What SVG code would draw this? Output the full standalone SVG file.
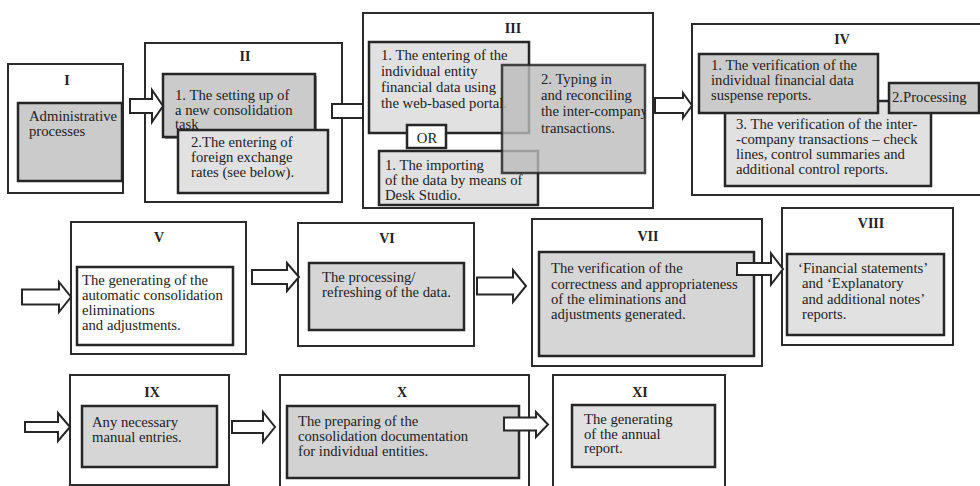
<svg xmlns="http://www.w3.org/2000/svg" width="980" height="486" viewBox="0 0 980 486">
<style>
.outer{fill:#fff;stroke:#2b2b2b;stroke-width:2}
.inner{stroke:#262626;stroke-width:2.5}
.dk{fill:#cbcbcb}
.md{fill:#d6d6d6}
.lt{fill:#e1e1e1}
.wh{fill:#fff}
text{font-family:"Liberation Serif","Times New Roman",serif;font-size:14.7px;fill:#222}
.lbl{font-weight:bold;text-anchor:middle;font-size:14px}
.arr{fill:#fff;stroke:#262626;stroke-width:2;stroke-linejoin:miter}
</style>
<defs>
<clipPath id="clipIII2"><rect x="502" y="65" width="143" height="108"/></clipPath>
</defs>

<g id="node-I">
<rect class="outer" x="8" y="64" width="115" height="129"/>
<text class="lbl" x="67" y="85">I</text>
<rect class="inner dk" x="18" y="103" width="104" height="78"/>
<text x="29" y="121">Administrative</text>
<text x="29" y="136">processes</text>
</g>

<g id="node-II">
<rect class="outer" x="145" y="43" width="197" height="159"/>
<text class="lbl" x="245" y="61">II</text>
<rect x="165" y="76" width="152" height="63" fill="#9a9a9a"/>
<rect class="inner dk" x="163" y="74" width="152" height="63"/>
<text x="175" y="100">1. The setting up of</text>
<text x="175" y="114.5">a new consolidation</text>
<text x="175" y="129">task</text>
<rect class="inner lt" x="178" y="130" width="150" height="63"/>
<text x="191" y="147">2.The entering of</text>
<text x="191" y="162">foreign exchange</text>
<text x="191" y="177">rates (see below).</text>
</g>

<g id="node-III">
<rect class="outer" x="363" y="13" width="290" height="195"/>
<text class="lbl" x="513" y="33">III</text>
<rect class="inner lt" x="369" y="42" width="160" height="91"/>
<text x="381" y="60">1. The entering of the</text>
<text x="381" y="76">individual entity</text>
<text x="381" y="92">financial data using</text>
<text x="381" y="108">the web-based portal.</text>
<rect class="inner wh" x="407" y="125" width="39" height="23"/>
<text x="427" y="143" text-anchor="middle">OR</text>
<rect class="inner lt" x="379" y="151" width="159" height="54"/>
<text x="385" y="170">1. The importing</text>
<text x="385" y="185">of the data by means of</text>
<text x="385" y="200">Desk Studio.</text>
<rect class="inner" x="502" y="65" width="143" height="108" fill="#bcbcbc" fill-opacity="0.8" stroke-opacity="0.85"/>
<g clip-path="url(#clipIII2)">
<text x="541" y="84">2. Typing in</text>
<text x="541" y="100">and reconciling</text>
<text x="541" y="116">the inter-company</text>
<text x="541" y="133">transactions.</text>
</g>
</g>

<g id="node-IV">
<rect class="outer" x="692" y="24" width="300" height="171"/>
<text class="lbl" x="842" y="44">IV</text>
<rect class="inner lt" x="725" y="101" width="206" height="85"/>
<text x="736" y="129">3. The verification of the inter-</text>
<text x="736" y="144">-company transactions – check</text>
<text x="736" y="159">lines, control summaries and</text>
<text x="736" y="174">additional control reports.</text>
<rect class="inner dk" x="699" y="54" width="179" height="59"/>
<text x="711" y="70">1. The verification of the</text>
<text x="711" y="85">individual financial data</text>
<text x="711" y="100">suspense reports.</text>
<line x1="878" y1="101" x2="889" y2="101" stroke="#262626" stroke-width="2"/>
<rect class="inner dk" x="889" y="83" width="90" height="30"/>
<text x="892" y="102">2.Processing</text>
</g>

<g id="node-V">
<rect class="outer" x="71" y="222" width="175" height="132"/>
<text class="lbl" x="159" y="242">V</text>
<rect class="inner wh" x="77" y="267" width="156" height="78"/>
<text x="82" y="285">The generating of the</text>
<text x="82" y="300">automatic consolidation</text>
<text x="82" y="315">eliminations</text>
<text x="82" y="330">and adjustments.</text>
</g>

<g id="node-VI">
<rect class="outer" x="298" y="223" width="176" height="123"/>
<text class="lbl" x="387" y="243">VI</text>
<rect class="inner md" x="309" y="263" width="155" height="67"/>
<text x="322" y="282">The processing/</text>
<text x="322" y="297">refreshing of the data.</text>
</g>

<g id="node-VII">
<rect class="outer" x="532" y="219" width="230" height="147"/>
<text class="lbl" x="648" y="241">VII</text>
<rect class="inner md" x="539" y="252" width="215" height="104"/>
<text x="551" y="273">The verification of the</text>
<text x="551" y="288.5">correctness and appropriateness</text>
<text x="551" y="304">of the eliminations and</text>
<text x="551" y="319">adjustments generated.</text>
</g>

<g id="node-VIII">
<rect class="outer" x="782" y="208" width="171" height="137"/>
<text class="lbl" x="871" y="228">VIII</text>
<rect class="inner lt" x="787" y="254" width="157" height="81"/>
<text x="798" y="273">‘Financial statements’</text>
<text x="802" y="288">and ‘Explanatory</text>
<text x="802" y="304">and additional notes’</text>
<text x="802" y="319">reports.</text>
</g>

<g id="node-IX">
<rect class="outer" x="70" y="375" width="159" height="110"/>
<text class="lbl" x="152" y="397">IX</text>
<rect class="inner md" x="82" y="406" width="135" height="61"/>
<text x="92" y="427">Any necessary</text>
<text x="92" y="442">manual entries.</text>
</g>

<g id="node-X">
<rect class="outer" x="280" y="375" width="249" height="120"/>
<text class="lbl" x="402" y="397">X</text>
<rect class="inner" fill="#d2d2d2" x="287" y="406" width="232" height="72"/>
<text x="298" y="426">The preparing of the</text>
<text x="298" y="441">consolidation documentation</text>
<text x="298" y="456">for individual entities.</text>
</g>

<g id="node-XI">
<rect class="outer" x="553" y="375" width="172" height="120"/>
<text class="lbl" x="640" y="397">XI</text>
<rect class="inner lt" x="572" y="405" width="143" height="62"/>
<text x="584" y="424">The generating</text>
<text x="584" y="438.5">of the annual</text>
<text x="584" y="453">report.</text>
</g>

<g id="connectors">
<polygon class="arr" points="130,99 152,99 152,90 163,106 152,122 152,113 130,113"/>
<path class="arr" d="M363,104 H332 V118 H363 Z M363,97 V125"/>
<polygon class="arr" points="655,98 683,98 683,93 692,105.5 683,118 683,113 655,113"/>
<polygon class="arr" points="22,289.5 59,289.5 59,282 71,297 59,312 59,304.5 22,304.5"/>
<polygon class="arr" points="252,270 287,270 287,263 299,277 287,291 287,284 252,284"/>
<polygon class="arr" points="477,277.5 513,277.5 513,270 526,286 513,302 513,294.5 477,294.5"/>
<polygon class="arr" points="737,263 771,263 771,253.5 783,269 771,284.5 771,275 737,275"/>
<polygon class="arr" points="25,422 58,422 58,413 70,427 58,441 58,432 25,432"/>
<polygon class="arr" points="232,421 263,421 263,412 275,427 263,442 263,433 232,433"/>
<polygon class="arr" points="504,417.5 536,417.5 536,412 548,424.5 536,437 536,430.5 504,430.5"/>
</g>
</svg>
